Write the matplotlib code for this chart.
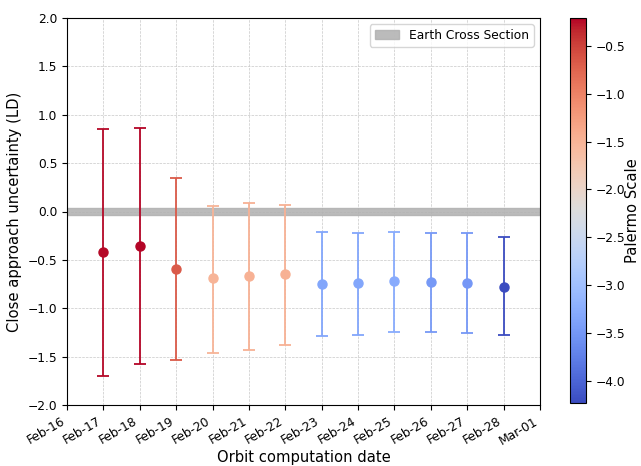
import matplotlib
matplotlib.use("Agg")
import matplotlib.pyplot as plt
import matplotlib.dates as mdates
import numpy as np
import pandas as pd

dates = ["2025-02-17", "2025-02-18", "2025-02-19", "2025-02-20", "2025-02-21", "2025-02-22",
         "2025-02-23", "2025-02-24", "2025-02-25", "2025-02-26", "2025-02-27", "2025-02-28"]
center = [-0.42, -0.36, -0.59, -0.69, -0.67, -0.65, -0.75, -0.74, -0.72, -0.73, -0.74, -0.78]
upper = [0.85, 0.86, 0.35, 0.06, 0.09, 0.07, -0.21, -0.22, -0.21, -0.22, -0.22, -0.26]
lower = [-1.70, -1.58, -1.53, -1.46, -1.43, -1.38, -1.29, -1.28, -1.25, -1.25, -1.26, -1.28]
palermo = [-0.24, -0.21, -0.68, -1.50, -1.48, -1.47, -3.35, -3.35, -3.28, -3.48, -3.50, -4.23]
earth_half = 0.033

plt.rcParams["font.size"] = 8.8

x = pd.to_datetime(dates)
fig = plt.figure(figsize=(6.41, 4.66), dpi=100)
ax = fig.add_axes([67/641, 1-405/466, (540-67)/641, (405-18)/466])
cax = fig.add_axes([570/641, 1-403/466, 16/641, (403-18)/466])

cmap = plt.get_cmap("coolwarm")
norm = matplotlib.colors.Normalize(vmin=min(palermo), vmax=max(palermo))

ax.axhspan(-earth_half, earth_half, color="#b0b0b0", alpha=0.85, label="Earth Cross Section", zorder=1)
for xi, c, u, l, p in zip(x, center, upper, lower, palermo):
    col = cmap(norm(p))
    ax.errorbar([xi], [c], yerr=[[c - l], [u - c]], fmt="o", color=col, ecolor=col,
                capsize=4.5, markersize=6.5, elinewidth=1.3, capthick=1.3, zorder=3)

ax.set_ylim(-2, 2)
ax.set_xlim(pd.Timestamp("2025-02-16"), pd.Timestamp("2025-03-01"))
ax.xaxis.set_major_locator(mdates.DayLocator())
ax.xaxis.set_major_formatter(mdates.DateFormatter("%b-%d"))
plt.setp(ax.get_xticklabels(), rotation=30, ha="right")
ax.grid(True, linestyle="--", linewidth=0.5, color="#c8c8c8")
ax.set_axisbelow(True)
ax.set_xlabel("Orbit computation date", fontsize=10.6, labelpad=2)
ax.set_ylabel("Close approach uncertainty (LD)", fontsize=10.6)
ax.legend(loc="upper right", fontsize=8.8)

sm = matplotlib.cm.ScalarMappable(norm=norm, cmap=cmap)
cb = fig.colorbar(sm, cax=cax)
cb.set_label("Palermo Scale", fontsize=10.6, labelpad=0)

fig.savefig("out.png", dpi=100)
